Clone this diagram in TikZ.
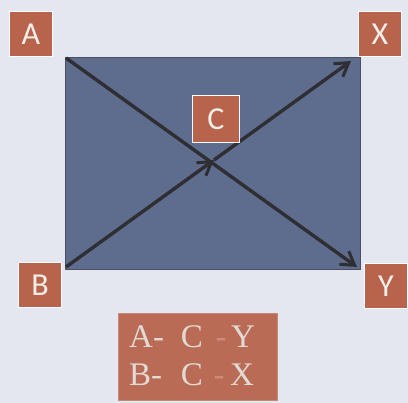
\documentclass[tikz,border=0pt]{standalone}
\usepackage{fontspec}
\setmainfont{Liberation Serif}
\newfontfamily\boxfont{Carlito}
\usetikzlibrary{arrows.meta}
\definecolor{bg}{HTML}{E4E6F0}
\definecolor{slate}{HTML}{5E6D8E}
\definecolor{slateedge}{HTML}{4A5060}
\definecolor{rust}{HTML}{B8644C}
\definecolor{rustb}{HTML}{B96B56}
\definecolor{lettxt}{HTML}{F4EEEA}
\definecolor{serifgray}{HTML}{E2DAD4}
\definecolor{dashc}{HTML}{CC8B78}
\definecolor{arrowc}{HTML}{2E2E33}
\tikzset{
  lbox/.style={draw=white, line width=1.6pt, fill=rust, minimum width=43pt, minimum height=45pt, inner sep=0pt, text=lettxt, font=\boxfont\fontsize{32}{32}\selectfont},
  arr/.style={draw=arrowc, line width=3.4pt, -{Straight Barb[length=13pt,width=16pt,line width=3pt]}},
  serifletter/.style={inner sep=0pt, anchor=base, text=serifgray, font=\fontsize{33}{33}\selectfont},
}
\begin{document}
\begin{tikzpicture}[x=1pt,y=-1pt]
\useasboundingbox[fill=bg] (0,0) rectangle (408,403);
% main rectangle
\draw[fill=slate, draw=slateedge, line width=0.8pt] (65,57) rectangle (360,269);
\coordinate (tl) at (66,58);
\coordinate (br) at (357,267);
\coordinate (bl) at (66,267);
\coordinate (tr) at (351,61);
\coordinate (ci) at (214,160);
% boxes
\node[lbox] (A) at (31,34) {A};
\node[lbox] (X) at (380,34) {X};
\node[lbox] (B) at (40,285) {B};
\node[lbox] (Y) at (386,286) {Y};
% arrows
\draw[arr] (bl) -- (ci);
\draw[arr] (ci) -- (tr);
\draw[arr] (tl) -- (br);
\node[lbox, minimum width=47pt, minimum height=47pt] (C) at (216,119) {C};
% bottom box
\node[fill=rustb, draw=rustb!80!white, line width=0.8pt, minimum width=159pt, minimum height=87pt, inner sep=0pt] (S) at (197.5,356.5) {};
\node[serifletter, anchor=base west] (s1a) at (129,348) {A-};
\node[serifletter] (s1c) at (192,348) {C};
\node[serifletter, text=dashc] (s1d) at (221,348) {-};
\node[serifletter] (s1y) at (243,348) {Y};
\node[serifletter, anchor=base west] (s2b) at (129,386) {B-};
\node[serifletter] (s2c) at (192,386) {C};
\node[serifletter, text=dashc] (s2d) at (219,386) {-};
\node[serifletter] (s2x) at (242,386) {X};
\end{tikzpicture}
\end{document}
